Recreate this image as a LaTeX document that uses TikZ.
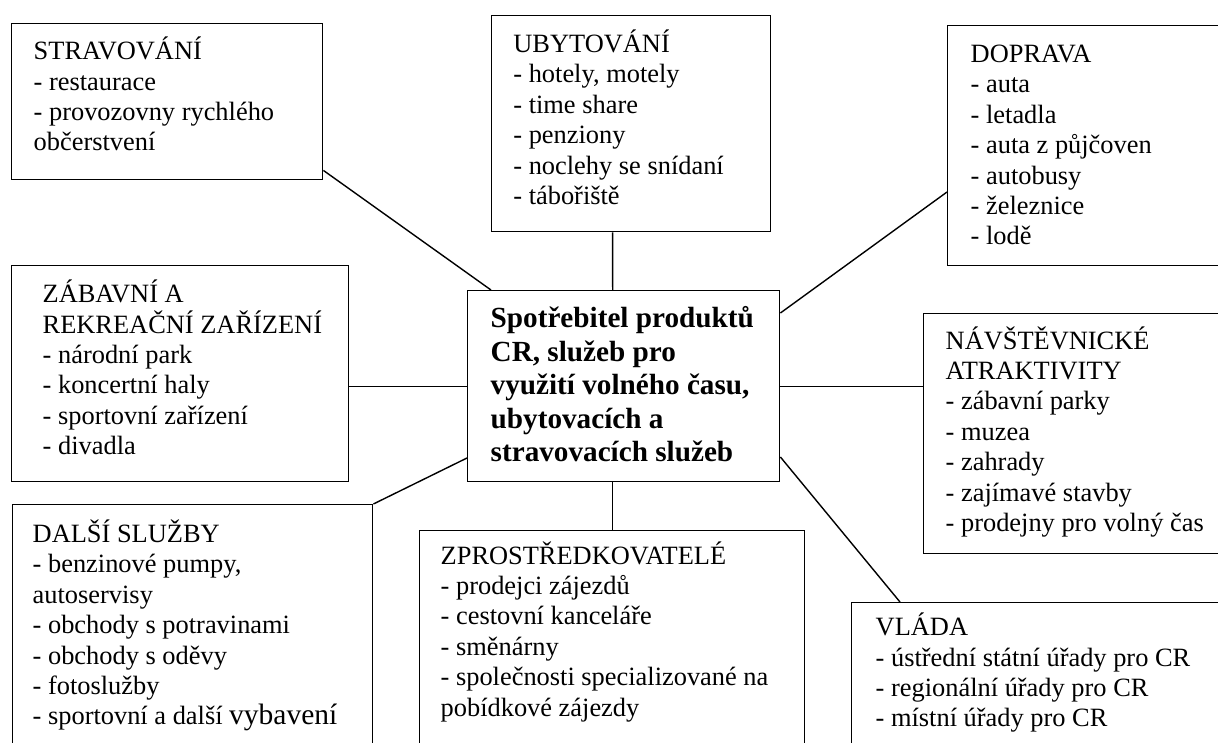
\documentclass[tikz,border=0pt]{standalone}
\usepackage{fontspec}
\setmainfont{Liberation Serif}
% #1 left padding, #2 text width, #3 box height, #4 first baseline offset, #5 text
\newcommand{\bxc}[5]{\hspace*{#1}\parbox[t][#3][t]{#2}{\raggedright\rule{0pt}{#4}#5}}
\tikzset{
  box/.style={draw, line width=1.4pt, anchor=north west, inner sep=0pt,
    font=\fontsize{26.4pt}{30.4pt}\selectfont},
  hub/.style={box, font=\fontsize{29.2pt}{33.6pt}\selectfont\bfseries},
  link/.style={line width=1.4pt},
}
\begin{document}
\begin{tikzpicture}[x=1pt,y=-1pt]
\useasboundingbox (0,0) rectangle (1218,742);
\clip (0,0) rectangle (1218,742);

\node[hub] (cen) at (467,290) {\bxc{23pt}{289pt}{191pt}{36.7pt}{Spotřebitel produktů\\CR, služeb pro\\využití volného času,\\ubytovacích a\\stravovacích služeb}};

\node[box] (strav) at (11,23) {\bxc{22pt}{289pt}{156pt}{36pt}{STRAVOVÁNÍ\\- restaurace\\- provozovny rychlého\\občerstvení}};

\node[box] (ub) at (491,15) {\bxc{21.7pt}{257pt}{216pt}{36.7pt}{UBYTOVÁNÍ\\- hotely, motely\\- time share\\- penziony\\- noclehy se snídaní\\- tábořiště}};

\node[box] (dop) at (947,25) {\bxc{23pt}{270pt}{240pt}{36.7pt}{DOPRAVA\\- auta\\- letadla\\- auta z půjčoven\\- autobusy\\- železnice\\- lodě}};

\node[box] (zab) at (11,265) {\bxc{31pt}{306pt}{216pt}{37pt}{ZÁBAVNÍ A\\REKREAČNÍ ZAŘÍZENÍ\\- národní park\\- koncertní haly\\- sportovní zařízení\\- divadla}};

\node[box] (dal) at (12,504) {\bxc{20pt}{340pt}{256pt}{37.7pt}{DALŠÍ SLUŽBY\\- benzinové pumpy,\\autoservisy\\- obchody s potravinami\\- obchody s oděvy\\- fotoslužby\\- sportovní a další {\fontsize{29.5pt}{30.4pt}\selectfont vybavení}}};

\node[box] (zpr) at (419,530) {\bxc{21pt}{364pt}{230pt}{33.3pt}{ZPROSTŘEDKOVATELÉ\\- prodejci zájezdů\\- cestovní kanceláře\\- směnárny\\- společnosti specializované na\\pobídkové zájezdy}};

\node[box] (nav) at (923,313) {\bxc{22pt}{295pt}{240pt}{35.3pt}{NÁVŠTĚVNICKÉ\\ATRAKTIVITY\\- zábavní parky\\- muzea\\- zahrady\\- zajímavé stavby\\- prodejny pro volný čas}};

\node[box] (vla) at (851,602) {\bxc{24pt}{365pt}{158pt}{33pt}{VLÁDA\\- ústřední státní úřady pro CR\\- regionální úřady pro CR\\- místní úřady pro CR}};

% connectors
\draw[link] ([yshift=10pt]strav.south east) -- ([xshift=24pt]cen.north west);
\draw[link] ([xshift=-18.5pt]ub.south) -- ([xshift=-11pt]cen.north);
\draw[link] ([yshift=-167pt]dop.north west) -- ([yshift=-23pt]cen.north east);
\draw[link] (zab.east |- cen.west) -- (cen.west);
\draw[link] (dal.north east) -- ([yshift=-168pt]cen.north west);
\draw[link] ([xshift=-11pt]cen.south) -- ([xshift=-11pt]cen.south |- zpr.north);
\draw[link] (cen.east) -- (cen.east -| nav.west);
\draw[link] ([yshift=-167pt]cen.north east) -- ([xshift=49pt]vla.north west);
\end{tikzpicture}
\end{document}
